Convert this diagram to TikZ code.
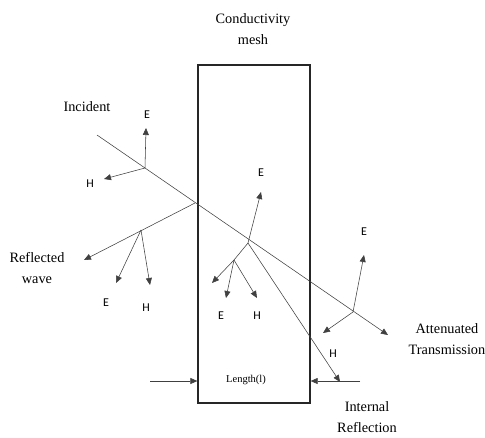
\documentclass[tikz,border=0pt]{standalone}
\usepackage{fontspec}
\setmainfont{Liberation Serif}
\setsansfont{Carlito}
\usetikzlibrary{arrows.meta}

\begin{document}
\begin{tikzpicture}[x=1pt, y=-1pt,
    ray/.style={draw=black!75, line width=0.55pt, -{Triangle[length=7pt,width=6pt]}},
    plainray/.style={draw=black!75, line width=0.55pt},
    meshbox/.style={draw=black!85, line width=1.3pt, minimum width=112pt, minimum height=338pt, inner sep=0pt},
    field/.style={font=\sffamily\fontsize{12}{13}\selectfont},
    caption/.style={font=\fontsize{14.3}{21.5}\selectfont, align=center}
]
\useasboundingbox (0,0) rectangle (485,437);
\node[meshbox](mesh) at (254,234){};
% points on the rays
\coordinate (inc) at (97,135);
\coordinate (incA) at (145,168);
\coordinate (front) at (195,203);
\coordinate (back) at (248,243);
\coordinate (transA) at (353,312);
\coordinate (transEnd) at (388,335);
\coordinate (incE) at (146,128);
\coordinate (incH) at (104,179);
\coordinate (refEnd) at (84,260);
\coordinate (refA) at (141,230);
\coordinate (refE) at (116,283);
\coordinate (refH) at (150,285);
\coordinate (intEnd) at (340,382);
\coordinate (backE) at (261,192);
\coordinate (backA) at (234,260);
\coordinate (backW) at (212,283);
\coordinate (backE2) at (226,298);
\coordinate (backH2) at (257,298);
\coordinate (transE) at (364,255);
\coordinate (transW) at (323,333);
\coordinate (lenL) at (150,381);
\coordinate (lenR) at (360,381);
% rays
\draw[ray] (inc) -- (transEnd);
\draw[ray] (incA) -- (incE);
\draw[ray] (incA) -- (incH);
\draw[ray] (front) -- (refEnd);
\draw[ray] (refA) -- (refE);
\draw[ray] (refA) -- (refH);
\draw[ray] (back) -- (intEnd);
\draw[ray] (back) -- (backE);
\draw[plainray] (back) -- (backA);
\draw[ray] (backA) -- (backW);
\draw[ray] (backA) -- (backE2);
\draw[ray] (backA) -- (backH2);
\draw[ray] (transA) -- (transE);
\draw[ray] (transA) -- (transW);
\draw[ray] (lenL) -- (mesh.west |- lenL);
\draw[ray] (lenR) -- (mesh.east |- lenR);
% labels
\node[caption](meshlabel) at (253,29){Conductivity\\mesh};
\node[caption](inclabel) at (87,107){Incident};
\node[caption](reflabel) at (37,268){Reflected\\wave};
\node[caption](translabel) at (447,339){Attenuated\\Transmission};
\node[caption](intlabel) at (367,417){Internal\\Reflection};
\node[font=\fontsize{10.5}{12}\selectfont](lenlabel) at (246,380){Length(l)};
\node[field](incElabel) at (147,115){E};
\node[field](incHlabel) at (90,184){H};
\node[field](refElabel) at (106,303){E};
\node[field](refHlabel) at (146,308){H};
\node[field](backElabel) at (261,173){E};
\node[field](backE2label) at (221,316){E};
\node[field](backH2label) at (257,316){H};
\node[field](transElabel) at (364,232){E};
\node[field](intHlabel) at (333,354){H};
\end{tikzpicture}
\end{document}
